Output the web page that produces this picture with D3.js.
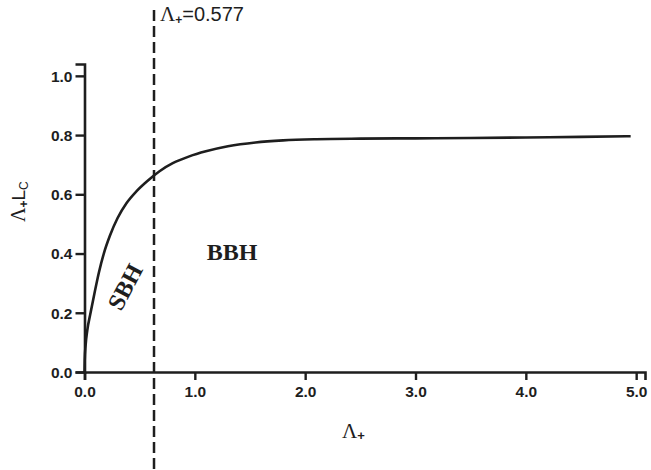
<!DOCTYPE html>
<html>
<head>
<meta charset="utf-8">
<script src="https://cdn.jsdelivr.net/npm/d3@7/dist/d3.min.js"></script>
<style>
  html, body { margin: 0; padding: 0; background: #fff; }
  svg { display: block; }
</style>
</head>
<body>
<svg id="chart" width="651" height="470"></svg>
<script>
// ---- data ----
const curveX = [0, 0.002, 0.01, 0.025, 0.055, 0.09, 0.13, 0.175, 0.23, 0.30, 0.38, 0.47, 0.57, 0.68, 0.80, 0.95, 1.1, 1.3, 1.55, 1.8, 2.1, 2.5, 3.0, 3.5, 4.0, 4.5, 4.95];
const curveY = [0, 0.04, 0.09, 0.14, 0.20, 0.265, 0.335, 0.40, 0.46, 0.52, 0.57, 0.61, 0.645, 0.678, 0.705, 0.728, 0.745, 0.762, 0.775, 0.782, 0.786, 0.788, 0.789, 0.790, 0.792, 0.794, 0.796];
const xTicks = [0, 1, 2, 3, 4, 5];
const yTicks = [0, 0.2, 0.4, 0.6, 0.8, 1.0];
const dashPos = 0.63;
const dashLabel = "0.577";

(function () {
const ink = "#1e1e1e";
const svg = d3.select("#chart");

const x = d3.scaleLinear().domain([0, 5.08]).range([84.5, 645]);
const y = d3.scaleLinear().domain([0, 1.04]).range([372, 64]);

// axes
const xAxis = d3.axisBottom(x).tickValues(xTicks).tickFormat(d3.format(".1f")).tickSizeOuter(0).tickSize(8).tickPadding(6);
const yAxis = d3.axisLeft(y).tickValues(yTicks).tickFormat(d3.format(".1f")).tickSizeOuter(0).tickSize(9).tickPadding(3);

const gx = svg.append("g").attr("transform", `translate(0,${y(0)})`).call(xAxis);
const gy = svg.append("g").attr("transform", `translate(${x(0)},0)`).call(yAxis);

[gx, gy].forEach(g => {
  g.select(".domain").attr("stroke", ink).attr("stroke-width", 2.6);
  g.selectAll(".tick line").attr("stroke", ink).attr("stroke-width", 2.4);
  g.selectAll(".tick text")
    .attr("fill", ink)
    .attr("font-family", "Liberation Sans, Arial, sans-serif")
    .attr("font-weight", "bold")
    .attr("font-size", 15.5);
});
gy.selectAll(".tick text").attr("dy", "0.35em");

// curve
const pts = curveX.map((d, i) => [d, curveY[i]]);
const line = d3.line().x(d => x(d[0])).y(d => y(d[1])).curve(d3.curveMonotoneX);
svg.append("path").datum(pts)
  .attr("d", line)
  .attr("fill", "none")
  .attr("stroke", ink)
  .attr("stroke-width", 2.6);

// dashed vertical line
svg.append("line")
  .attr("x1", x(dashPos)).attr("x2", x(dashPos))
  .attr("y1", 10).attr("y2", 470)
  .attr("stroke", ink)
  .attr("stroke-width", 2.5)
  .attr("stroke-dasharray", "11,5");

// top label
const tl = svg.append("text").attr("x", x(dashPos) + 6).attr("y", 21).attr("fill", ink);
tl.append("tspan").attr("font-family", "Liberation Serif, Times New Roman, serif").attr("font-size", 21).text("Λ");
tl.append("tspan").attr("font-family", "Liberation Sans, Arial, sans-serif").attr("font-weight", "bold").attr("font-size", 12).attr("dy", 3).text("+");
tl.append("tspan").attr("font-family", "Liberation Sans, Arial, sans-serif").attr("font-size", 20).attr("dy", -3).text("=" + dashLabel);

// x axis label
const xl = svg.append("text").attr("x", 342).attr("y", 438).attr("fill", ink);
xl.append("tspan").attr("font-family", "Liberation Serif, Times New Roman, serif").attr("font-size", 21).text("Λ");
xl.append("tspan").attr("font-family", "Liberation Sans, Arial, sans-serif").attr("font-weight", "bold").attr("font-size", 13).attr("dy", 2).text("+");

// y axis label
const yl = svg.append("text")
  .attr("transform", "translate(25,222) rotate(-90)")
  .attr("fill", ink);
yl.append("tspan").attr("font-family", "Liberation Serif, Times New Roman, serif").attr("font-size", 20).text("Λ");
yl.append("tspan").attr("font-family", "Liberation Sans, Arial, sans-serif").attr("font-weight", "bold").attr("font-size", 12).attr("dy", 3).text("+");
yl.append("tspan").attr("font-family", "Liberation Sans, Arial, sans-serif").attr("font-size", 19).attr("dy", -3).text("L");
yl.append("tspan").attr("font-family", "Liberation Sans, Arial, sans-serif").attr("font-size", 12).attr("dy", 3).text("C");

// region labels
svg.append("text")
  .attr("x", 232).attr("y", 259.5)
  .attr("text-anchor", "middle")
  .attr("font-family", "Liberation Serif, Times New Roman, serif")
  .attr("font-weight", "bold")
  .attr("font-size", 24)
  .attr("fill", ink)
  .text("BBH");

svg.append("text")
  .attr("transform", "translate(125,287) rotate(-62)")
  .attr("text-anchor", "middle")
  .attr("dy", "0.34em")
  .attr("font-family", "Liberation Serif, Times New Roman, serif")
  .attr("font-weight", "bold")
  .attr("font-size", 24)
  .attr("fill", ink)
  .text("SBH");
})();
</script>
</body>
</html>
